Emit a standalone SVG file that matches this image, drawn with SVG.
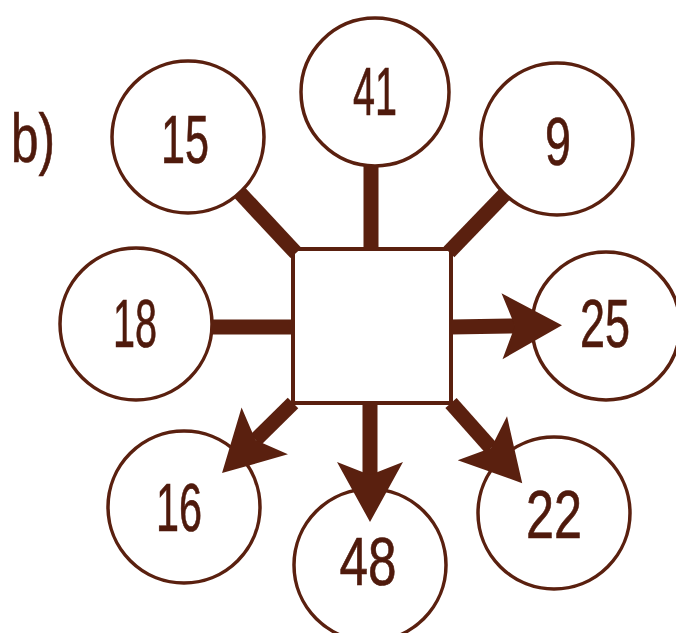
<svg xmlns="http://www.w3.org/2000/svg" width="676" height="633" viewBox="0 0 676 633">
<style>
.c{fill:#fff;stroke:#5a200f;stroke-width:3.5}
.box{fill:#fff;stroke:#5a200f;stroke-width:4}
.conn{stroke:#5a200f;stroke-width:15;stroke-linecap:butt;fill:none}
.t{font-family:"Liberation Sans",Arial,sans-serif;font-size:68px;fill:#4f1a0c;stroke:#4f1a0c;stroke-width:0.7;text-anchor:middle}
</style>
<defs>
<marker id="ah" viewBox="-15 -35 64 70" refX="0" refY="0" markerWidth="64" markerHeight="70" markerUnits="userSpaceOnUse" orient="auto" overflow="visible">
<path d="M47,0 L-13,-33 L0,0 L-13,33 Z" fill="#5a200f"/>
</marker>
</defs>
<rect width="676" height="633" fill="#fff"/>
<text class="t" x="33" y="162" font-size="78" textLength="44" lengthAdjust="spacingAndGlyphs">b)</text>
<g id="center"><rect class="box" x="293" y="249" width="158" height="154"/></g>
<g id="n15"><circle class="c" cx="188" cy="137" r="76"/><text class="t" x="185" y="163" textLength="48" lengthAdjust="spacingAndGlyphs">15</text></g>
<g id="n41"><circle class="c" cx="375" cy="92" r="74"/><text class="t" x="375" y="115" textLength="44" lengthAdjust="spacingAndGlyphs">41</text></g>
<g id="n9"><circle class="c" cx="557" cy="139" r="76"/><text class="t" x="558" y="165" textLength="26" lengthAdjust="spacingAndGlyphs">9</text></g>
<g id="n18"><circle class="c" cx="136" cy="324" r="76"/><text class="t" x="135" y="347" textLength="44" lengthAdjust="spacingAndGlyphs">18</text></g>
<g id="n25"><circle class="c" cx="606" cy="326" r="74"/><text class="t" x="605" y="347" textLength="50" lengthAdjust="spacingAndGlyphs">25</text></g>
<g id="n16"><circle class="c" cx="184" cy="507" r="76"/><text class="t" x="179" y="531" textLength="46" lengthAdjust="spacingAndGlyphs">16</text></g>
<g id="n48"><circle class="c" cx="370" cy="565" r="76"/><text class="t" x="368" y="585" textLength="57" lengthAdjust="spacingAndGlyphs">48</text></g>
<g id="n22"><circle class="c" cx="554" cy="513" r="76"/><text class="t" x="554" y="538" textLength="56" lengthAdjust="spacingAndGlyphs">22</text></g>
<g id="connectors">
<line class="conn" x1="240" y1="193" x2="296" y2="253"/>
<line class="conn" x1="371" y1="166" x2="371" y2="250"/>
<line class="conn" x1="505" y1="194" x2="449" y2="252"/>
<line class="conn" x1="212" y1="327" x2="295" y2="327"/>
<line class="conn" x1="451" y1="327" x2="515" y2="326" marker-end="url(#ah)"/>
<line class="conn" x1="370" y1="403" x2="370" y2="475" marker-end="url(#ah)"/>
<line class="conn" x1="293" y1="403" x2="255.5" y2="440" marker-end="url(#ah)"/>
<line class="conn" x1="451" y1="403" x2="491" y2="448" marker-end="url(#ah)"/>
</g>
</svg>
